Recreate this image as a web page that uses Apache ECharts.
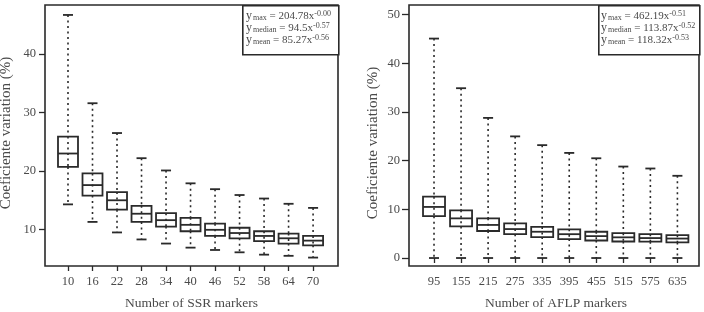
<!DOCTYPE html>
<html><head><meta charset="utf-8">
<script src="https://cdn.jsdelivr.net/npm/echarts@6/dist/echarts.min.js"></script>
<style>html,body{margin:0;padding:0;background:#fff}#c{width:704px;height:312px}</style>
</head><body><div id="c"></div>
<script>
// SSR panel
const ssrMarkers = [10,16,22,28,34,40,46,52,58,64,70];
const ssrMin    = [14.3,11.3,9.5,8.3,7.6,6.9,6.5,6.1,5.7,5.5,5.2];
const ssrQ1     = [20.7,15.8,13.4,11.3,10.5,9.7,8.9,8.5,8.0,7.6,7.3];
const ssrMedian = [23.0,17.6,15.0,12.7,11.6,10.8,9.95,9.4,8.9,8.5,8.1];
const ssrQ3     = [25.9,19.6,16.4,14.05,12.8,12.0,11.0,10.3,9.7,9.3,8.9];
const ssrMax    = [46.7,31.6,26.5,22.2,20.1,17.9,16.9,15.9,15.3,14.4,13.7];
const ssrYTicks = [10,20,30,40];
// AFLP panel
const aflpMarkers = [95,155,215,275,335,395,455,515,575,635];
const aflpMin    = [0,0,0,0,0,0,0,0,0,0];
const aflpQ1     = [8.6,6.5,5.55,4.9,4.3,3.9,3.6,3.4,3.35,3.2];
const aflpMedian = [10.5,8.15,6.8,5.95,5.4,4.9,4.5,4.25,4.1,4.0];
const aflpQ3     = [12.6,9.8,8.15,7.1,6.4,5.9,5.4,5.1,4.9,4.7];
const aflpMax    = [45.1,34.9,28.8,25.0,23.2,21.6,20.5,18.8,18.4,16.9];
const aflpYTicks = [0,10,20,30,40,50];
// Fit equations and titles
const ssrEq  = [['max','204.78x','-0.00'],['median','94.5x','-0.57'],['mean','85.27x','-0.56']];
const aflpEq = [['max','462.19x','-0.51'],['median','113.87x','-0.52'],['mean','118.32x','-0.53']];
const yTitle = 'Coeficiente variation (%)';
const ssrXTitle = 'Number of SSR markers';
const aflpXTitle = 'Number of AFLP markers';

const FONT = 'Liberation Serif';
const INK = '#2a2a2a';
const TXT = '#4a4a4a';

function rows(xs, mn, q1, md, q3, mx){ return xs.map((x,i)=>[x,mn[i],q1[i],md[i],q3[i],mx[i]]); }

function boxRenderer(boxW, capW){
  return function(params, api){
    const x = api.value(0);
    const pMin = api.coord([x, api.value(1)]);
    const pQ1 = api.coord([x, api.value(2)]);
    const pMd = api.coord([x, api.value(3)]);
    const pQ3 = api.coord([x, api.value(4)]);
    const pMax = api.coord([x, api.value(5)]);
    const cx = pMd[0];
    const ls = {stroke: INK, lineWidth: 1.8};
    const ds = {stroke:INK,lineWidth:1.6,lineDash:[2,3.5]};
    return {type:'group', children:[
      {type:'line', shape:{x1:cx,y1:pMax[1],x2:cx,y2:pQ3[1]}, style:ds},
      {type:'line', shape:{x1:cx,y1:pQ1[1],x2:cx,y2:pMin[1]}, style:ds},
      {type:'line', shape:{x1:cx,y1:pQ3[1],x2:cx,y2:pQ1[1]}, style:ds},
      {type:'line', shape:{x1:cx-capW/2,y1:pMax[1],x2:cx+capW/2,y2:pMax[1]}, style:ls},
      {type:'line', shape:{x1:cx-capW/2,y1:pMin[1],x2:cx+capW/2,y2:pMin[1]}, style:ls},
      {type:'rect', shape:{x:cx-boxW/2,y:pQ3[1],width:boxW,height:pQ1[1]-pQ3[1]}, style:{fill:'none',stroke:INK,lineWidth:1.8}},
      {type:'line', shape:{x1:cx-boxW/2,y1:pMd[1],x2:cx+boxW/2,y2:pMd[1]}, style:ls}
    ]};
  };
}

function eqText(eq){
  return eq.map(e=>'{y|y}{sub|'+e[0]+'}{t| = '+e[1]+'}{sup|'+e[2]+'}').join('\n');
}
const rich = {
  y:{fontFamily:FONT,fontSize:12,lineHeight:12,verticalAlign:'middle',fill:TXT},
  t:{fontFamily:FONT,fontSize:11,lineHeight:12,verticalAlign:'middle',fill:TXT},
  sub:{fontFamily:FONT,fontSize:8,lineHeight:4,verticalAlign:'bottom',fill:TXT,padding:[0,0,0,1]},
  sup:{fontFamily:FONT,fontSize:8,lineHeight:4,verticalAlign:'top',fill:TXT}
};

const axisLabelStyle = {fontFamily:FONT,fontSize:12.5,color:TXT};

const option = {
  animation:false,
  backgroundColor:'#fff',
  grid:[
    {left:45,top:5,width:293,height:261,show:true,borderColor:INK,borderWidth:1.6,backgroundColor:'transparent'},
    {left:409,top:5,width:290,height:261,show:true,borderColor:INK,borderWidth:1.6,backgroundColor:'transparent'}
  ],
  xAxis:[
    {type:'value',gridIndex:0,min:4.37,max:76.1,
     axisLine:{show:false},splitLine:{show:false},
     axisTick:{show:true,length:5,lineStyle:{color:INK,width:1.3},customValues:ssrMarkers},
     axisLabel:{...axisLabelStyle,margin:9,customValues:ssrMarkers}},
    {type:'value',gridIndex:1,min:39.5,max:682.9,
     axisLine:{show:false},splitLine:{show:false},
     axisTick:{show:true,length:5,lineStyle:{color:INK,width:1.3},customValues:aflpMarkers},
     axisLabel:{...axisLabelStyle,margin:9,customValues:aflpMarkers}}
  ],
  yAxis:[
    {type:'value',gridIndex:0,min:3.76,max:48.4,
     axisLine:{show:false},splitLine:{show:false},
     axisTick:{show:true,length:6,lineStyle:{color:INK,width:1.3},customValues:ssrYTicks},
     axisLabel:{...axisLabelStyle,margin:9,customValues:ssrYTicks}},
    {type:'value',gridIndex:1,min:-1.64,max:52.0,
     axisLine:{show:false},splitLine:{show:false},
     axisTick:{show:true,length:7,lineStyle:{color:INK,width:1.3},customValues:aflpYTicks},
     axisLabel:{...axisLabelStyle,margin:9,customValues:aflpYTicks}}
  ],
  series:[
    {type:'custom',xAxisIndex:0,yAxisIndex:0,clip:false,renderItem:boxRenderer(20,10),
     encode:{x:0,y:[1,2,3,4,5]},data:rows(ssrMarkers,ssrMin,ssrQ1,ssrMedian,ssrQ3,ssrMax)},
    {type:'custom',xAxisIndex:1,yAxisIndex:1,clip:false,renderItem:boxRenderer(22,10),
     encode:{x:0,y:[1,2,3,4,5]},data:rows(aflpMarkers,aflpMin,aflpQ1,aflpMedian,aflpQ3,aflpMax)}
  ],
  graphic:[
    {type:'rect',left:242,top:5,shape:{width:96,height:49},style:{fill:'#fff',stroke:INK,lineWidth:1.6},z:10},
    {type:'text',left:246,top:10,z:11,style:{text:eqText(ssrEq),rich:rich,fill:TXT}},
    {type:'rect',left:598,top:5,shape:{width:101,height:49},style:{fill:'#fff',stroke:INK,lineWidth:1.6},z:10},
    {type:'text',left:601,top:10,z:11,style:{text:eqText(aflpEq),rich:rich,fill:TXT}},
    {type:'text',x:6,y:133,rotation:Math.PI/2,z:11,style:{text:yTitle,fontFamily:FONT,fontSize:15,fill:TXT,align:'center',verticalAlign:'middle'}},
    {type:'text',x:373,y:143,rotation:Math.PI/2,z:11,style:{text:yTitle,fontFamily:FONT,fontSize:15,fill:TXT,align:'center',verticalAlign:'middle'}},
    {type:'text',x:191.5,y:303,z:11,style:{text:ssrXTitle,fontFamily:FONT,fontSize:13.5,fill:TXT,align:'center',verticalAlign:'middle'}},
    {type:'text',x:556,y:303,z:11,style:{text:aflpXTitle,fontFamily:FONT,fontSize:13.5,fill:TXT,align:'center',verticalAlign:'middle'}}
  ]
};
const chart = echarts.init(document.getElementById('c'),null,{renderer:'canvas'});
chart.setOption(option);
</script></body></html>
